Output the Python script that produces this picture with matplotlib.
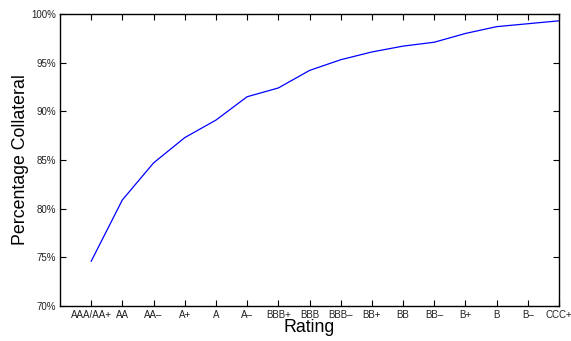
import matplotlib
matplotlib.use("Agg")
import matplotlib.pyplot as plt
from matplotlib.ticker import FuncFormatter

plt.rcParams['font.family'] = ['Liberation Sans', 'DejaVu Sans']

ratings = ["AAA/AA+", "AA", "AA\u2013", "A+", "A", "A\u2013", "BBB+", "BBB", "BBB\u2013",
           "BB+", "BB", "BB\u2013", "B+", "B", "B\u2013", "CCC+"]
collateral = [74.6, 80.9, 84.7, 87.3, 89.1, 91.5, 92.4, 94.2, 95.3,
              96.1, 96.7, 97.1, 98.0, 98.7, 99.0, 99.3]
yticks = [70, 75, 80, 85, 90, 95, 100]

fig = plt.figure(figsize=(5.71, 3.41), dpi=100)
ax = fig.add_axes([60/571, 1 - 306/341, (559-60)/571, (306-14)/341])
x = list(range(len(ratings)))
ax.plot(x, collateral, color='#0000ff', linewidth=0.9)
ax.set_xlim(-1, len(ratings) - 1)
ax.set_ylim(70, 100)
ax.set_xticks(x)
ax.set_xticklabels(ratings, fontsize=7.0)
ax.set_yticks(yticks)
ax.yaxis.set_major_formatter(FuncFormatter(lambda v, p: f"{v:.0f}%"))
ax.tick_params(axis='y', labelsize=7.0)
ax.tick_params(direction='in', top=True, right=True, length=4, width=0.8, pad=3,
               labelcolor='#222222')
for s in ax.spines.values():
    s.set_linewidth(1.0)
ax.set_xlabel("Rating", fontsize=12.8, labelpad=-1)
ax.set_ylabel("Percentage Collateral", fontsize=12.8, labelpad=1.5)
fig.savefig("out.png", dpi=100)
